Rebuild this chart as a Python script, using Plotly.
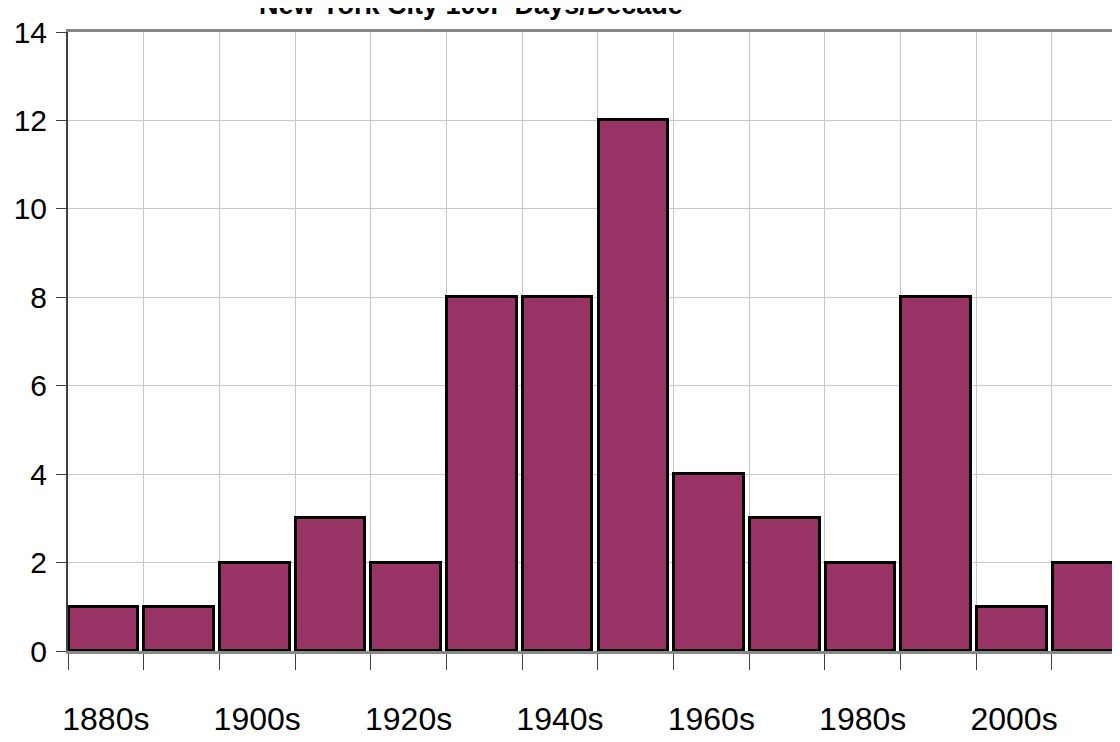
import plotly.graph_objects as go

# decades and count of 100F days
decades = ['1880s', '1890s', '1900s', '1910s', '1920s', '1930s', '1940s',
           '1950s', '1960s', '1970s', '1980s', '1990s', '2000s', '2010s']
days_100f = [1, 1, 2, 3, 2, 8, 8, 12, 4, 3, 2, 8, 1, 2]
y_ticks = [0, 2, 4, 6, 8, 10, 12, 14]

font_name = "Liberation Sans, Arial, sans-serif"
x_pos = list(range(len(decades)))
label_pos = x_pos[::2]
label_text = decades[::2]
boundaries = [i - 0.5 for i in range(len(decades) + 1)]

fig = go.Figure()
fig.add_trace(go.Bar(
    x=x_pos, y=days_100f,
    width=0.92, offset=-0.49,
    marker=dict(color='#993366', line=dict(color='black', width=3)),
    showlegend=False,
))

# page body has an 8px margin, so the figure is sized to fill the rest of the window
fig.update_layout(
    width=1112, height=734,
    margin=dict(l=60, r=0, t=24, b=91, autoexpand=False),
    plot_bgcolor='white', paper_bgcolor='white',
    font=dict(family=font_name, size=32, color='black'),
    bargap=0,
)

fig.update_xaxes(
    range=[-0.5, 13.4],
    tickvals=label_pos, ticktext=label_text,
    ticks='', showgrid=False, automargin=False,
    ticklabelstandoff=38,
    tickfont=dict(size=32),
    minor=dict(tickvals=boundaries, ticks='outside', ticklen=16,
               tickcolor='#404040', showgrid=True, gridcolor='#c8c8c8', gridwidth=1),
    showline=True, linecolor='#888888', linewidth=3, mirror=True,
    zeroline=False,
)
fig.update_yaxes(
    range=[0, 14],
    tickvals=y_ticks, automargin=False,
    ticks='outside', ticklen=10, tickcolor='#404040',
    showgrid=True, gridcolor='#c8c8c8', gridwidth=1,
    showline=True, linecolor='#404040', linewidth=2,
    zeroline=False,
    ticklabelstandoff=3,
    tickfont=dict(size=30),
)

fig.add_annotation(
    text='<b>New York City 100F Days/Decade</b>',
    xref='paper', yref='paper', x=0.383, y=1.016,
    xanchor='center', yanchor='bottom', showarrow=False,
    font=dict(family=font_name, size=27, color='black'),
)

fig.write_html("out.html")
